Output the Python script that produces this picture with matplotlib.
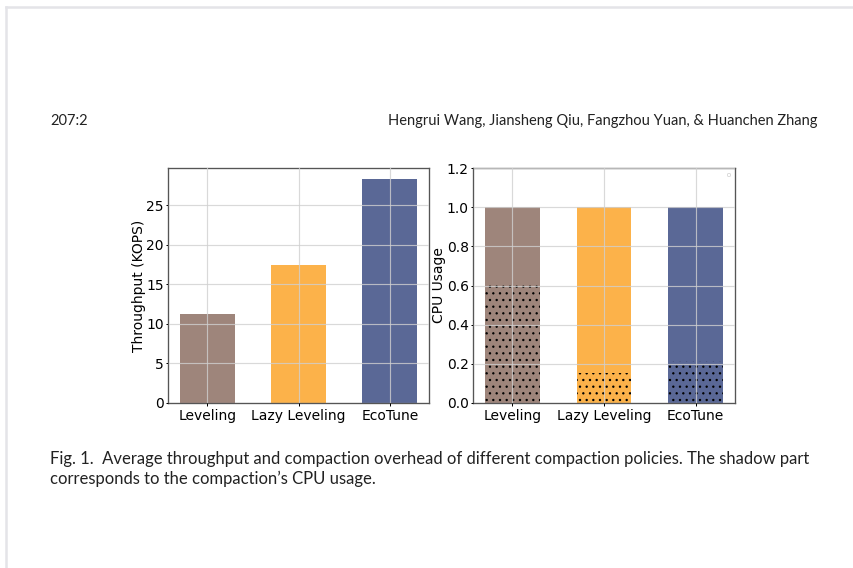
import numpy as np
import matplotlib.pyplot as plt
from matplotlib.lines import Line2D

# Data
policies = ["Leveling", "Lazy Leveling", "EcoTune"]
throughput = [11.25, 17.5, 28.3]
cpu_total = [1.0, 1.0, 1.0]
cpu_compaction = [0.61, 0.155, 0.215]
colors = ["#9e857b", "#fcb24a", "#5a6896"]

header_left = "207:2"
header_right = "Hengrui Wang, Jiansheng Qiu, Fangzhou Yuan, & Huanchen Zhang"
caption_1 = ("Fig. 1.  Average throughput and compaction overhead of different "
             "compaction policies. The shadow part")
caption_2 = "corresponds to the compaction\u2019s CPU usage."

DPI = 120
fig = plt.figure(figsize=(853 / DPI, 568 / DPI), dpi=DPI)
plt.rcParams['hatch.color'] = 'black'
plt.rcParams['hatch.linewidth'] = 0.6

W, H = 853, 568


def px_axes(x0, y0, x1, y1):
    return fig.add_axes([x0 / W, 1 - y1 / H, (x1 - x0) / W, (y1 - y0) / H])


ax1 = px_axes(168, 168, 429, 403)
ax2 = px_axes(473, 168, 735, 403)

x = np.arange(len(policies))
fs = 8.3

# left: throughput
ax1.bar(x, throughput, width=0.6, color=colors, zorder=1)
ax1.set_ylabel("Throughput (KOPS)", fontsize=fs, labelpad=0)
ax1.set_yticks([0, 5, 10, 15, 20, 25])

# right: CPU usage with shaded compaction part
ax2.bar(x, cpu_total, width=0.6, color=colors, zorder=1)
ax2.bar(x, cpu_compaction, width=0.6, color=colors, hatch="...",
        edgecolor="black", linewidth=0, zorder=1.5)
ax2.set_ylim(0, 1.2)
ax2.set_yticks(np.arange(0, 1.21, 0.2))
ax2.set_yticklabels([f"{v:.1f}" for v in np.arange(0, 1.21, 0.2)])
ax2.set_ylabel("CPU Usage", fontsize=fs, labelpad=0.5)
leg = ax2.legend([], [], loc="upper right", frameon=True, fontsize=2,
                 borderaxespad=1.5)
leg.get_frame().set_linewidth(0.5)

for ax in (ax1, ax2):
    ax.set_xticks(x)
    ax.set_xticklabels(policies)
    ax.tick_params(labelsize=fs, width=0.6)
    ax.tick_params(axis="y", length=1.5, pad=1)
    ax.tick_params(axis="x", length=2, pad=1.5)
    ax.set_axisbelow(False)
    ax.grid(True, color="#d0d0d0", linewidth=0.7, alpha=0.8, zorder=2)
    for sp in ax.spines.values():
        sp.set_color("#555555")
        sp.set_linewidth(0.8)

# page decorations
fig.add_artist(Line2D([6 / W, 1], [1 - 7 / H, 1 - 7 / H], color="#e4e4e8",
                      linewidth=1.5, transform=fig.transFigure))
fig.add_artist(Line2D([6 / W, 6 / W], [1 - 7 / H, 0], color="#e4e4e8",
                      linewidth=1.5, transform=fig.transFigure))

sans = ["Lato", "DejaVu Sans"]
fig.text(50 / W, 1 - 121 / H, header_left, fontsize=8.8, family=sans,
         va="center", ha="left", color="#222222")
fig.text(818 / W, 1 - 121 / H, header_right, fontsize=8.8, family=sans,
         va="center", ha="right", color="#222222")
fig.text(50 / W, 1 - 459 / H, caption_1, fontsize=10.0, family=sans,
         va="center", ha="left", color="#222222")
fig.text(50 / W, 1 - 479 / H, caption_2, fontsize=10.0, family=sans,
         va="center", ha="left", color="#222222")

fig.savefig("out.png", dpi=DPI, facecolor="white")
